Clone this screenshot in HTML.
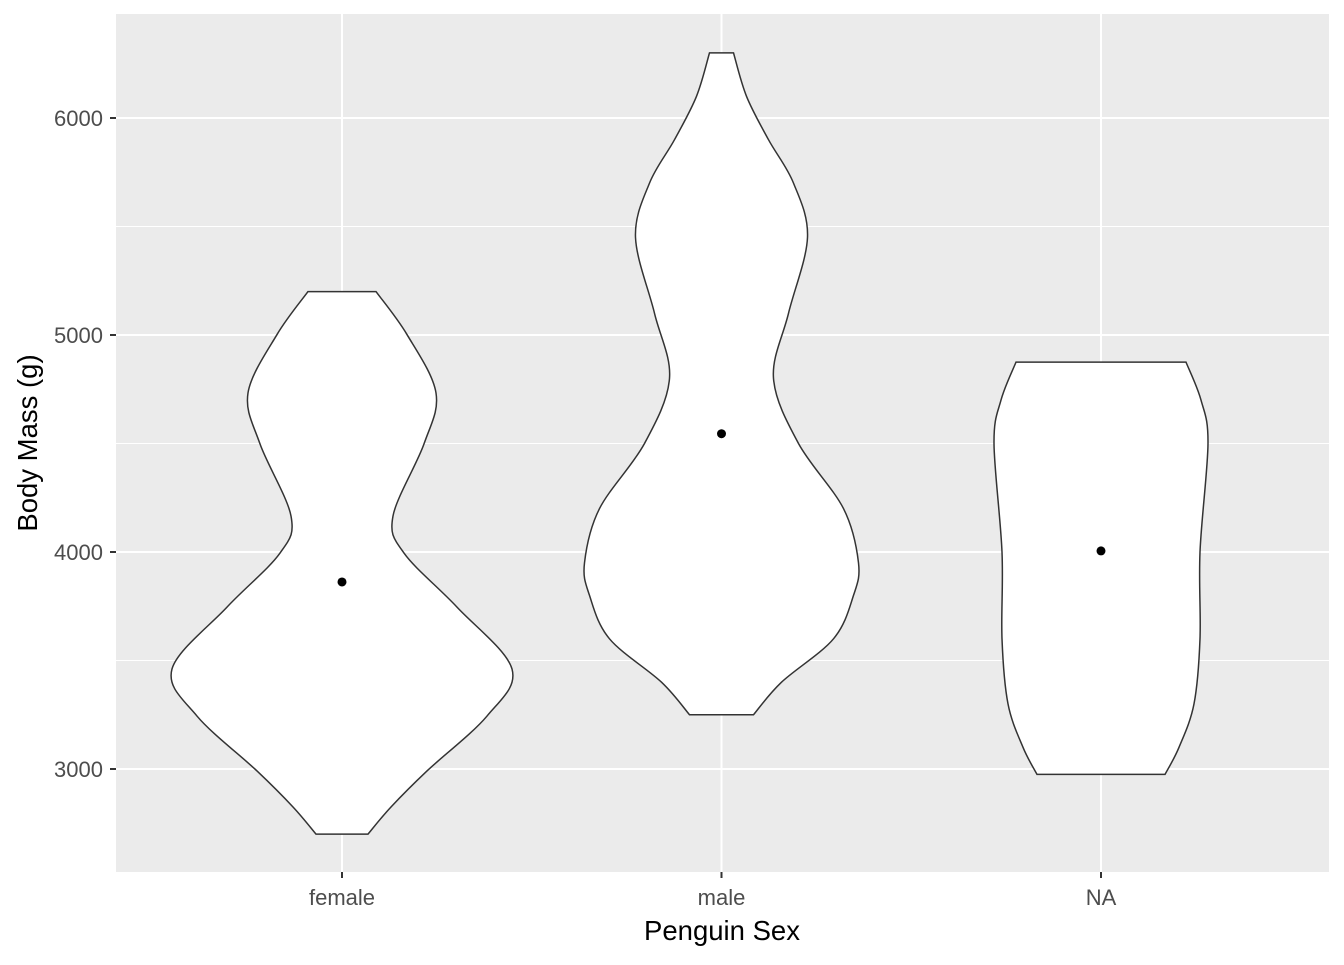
<!DOCTYPE html>
<html><head><meta charset="utf-8"><style>
body{margin:0;background:#fff;font-family:"Liberation Sans",sans-serif}
</style></head><body>
<svg id="chart" width="1344" height="960" xmlns="http://www.w3.org/2000/svg">
<rect x="116" y="14" width="1213" height="858" fill="#EBEBEB"/>
<g id="grid"></g><g id="violins"></g><g id="axes"></g>
<text x="722" y="940" text-anchor="middle" font-size="27.5" fill="#000">Penguin Sex</text>
<text transform="translate(37,443) rotate(-90)" text-anchor="middle" font-size="27.5" fill="#000">Body Mass (g)</text>
</svg>
<script>
const categories=["female","male","NA"];
const yTicks=[3000,4000,5000,6000];
const means=[3862,4545,4005];
const femaleVals=[2700,2825,2991,3244,3461,3746,3995,4166,4498,4733,5002,5200];
const femaleWidth=[26,49,85,145,170,115,62,51,82,94,65,34];
const maleVals=[3250,3400,3600,3800,3950,4200,4500,4800,5100,5450,5700,5900,6100,6300];
const maleWidth=[32,60,112,132,137,122,77,52,67,86,72,47,25,12];
const naVals=[2975,3100,3300,3600,4000,4500,4700,4875];
const naWidth=[64,78,93,99,99,107,100,85];
const svg=document.getElementById('chart');
const NS="http://www.w3.org/2000/svg";
const y=v=>769-(v-3000)*0.217;
const x=i=>342+i*379.5;
function mk(t,a,p){const e=document.createElementNS(NS,t);for(const k in a)e.setAttribute(k,a[k]);p.appendChild(e);return e;}
const grid=document.getElementById('grid'),axes=document.getElementById('axes'),vg=document.getElementById('violins');
for(let v=2500;v<=6500;v+=500){if(y(v)<14||y(v)>872)continue;const major=v%1000===0;
const l=mk('line',{x1:116,x2:1329,y1:y(v),y2:y(v),stroke:'#fff','stroke-width':major?2:1},grid);

}
categories.forEach((c,i)=>{const l=mk('line',{x1:x(i),x2:x(i),y1:14,y2:872,stroke:'#fff','stroke-width':2},grid);


const t=mk('line',{x1:x(i),x2:x(i),y1:872,y2:878,stroke:'#333','stroke-width':2},axes);


const tx=mk('text',{x:x(i),y:905,'text-anchor':'middle','font-size':22,fill:'#4D4D4D'},axes);tx.textContent=c;

});
yTicks.forEach(v=>{const t=mk('line',{x1:110,x2:116,y1:y(v),y2:y(v),stroke:'#333','stroke-width':2},axes);


const tx=mk('text',{x:103,y:y(v)+8,'text-anchor':'end','font-size':22,fill:'#4D4D4D'},axes);tx.textContent=v;

});
function curve(pts){let d='';for(let i=0;i<pts.length-1;i++){const p0=pts[Math.max(0,i-1)],p1=pts[i],p2=pts[i+1],p3=pts[Math.min(pts.length-1,i+2)];
const c1=[p1[0]+(p2[0]-p0[0])/6,p1[1]+(p2[1]-p0[1])/6],c2=[p2[0]-(p3[0]-p1[0])/6,p2[1]-(p3[1]-p1[1])/6];
d+=` C${c1[0]},${c1[1]} ${c2[0]},${c2[1]} ${p2[0]},${p2[1]}`;}return d;}
[[femaleVals,femaleWidth],[maleVals,maleWidth],[naVals,naWidth]].forEach(([vals,w],i)=>{
const cx=x(i);const right=vals.map((v,k)=>[cx+w[k],y(v)]);const left=vals.map((v,k)=>[cx-w[k],y(v)]).reverse();
const d=`M${right[0][0]},${right[0][1]}`+curve(right)+` L${left[0][0]},${left[0][1]}`+curve(left)+'Z';
const p=mk('path',{d,fill:'#fff',stroke:'#333','stroke-width':1.5},vg);


const m=mk('circle',{cx,cy:y(means[i]),r:4.5,fill:'#000'},vg);

});
</script>
</body></html>
